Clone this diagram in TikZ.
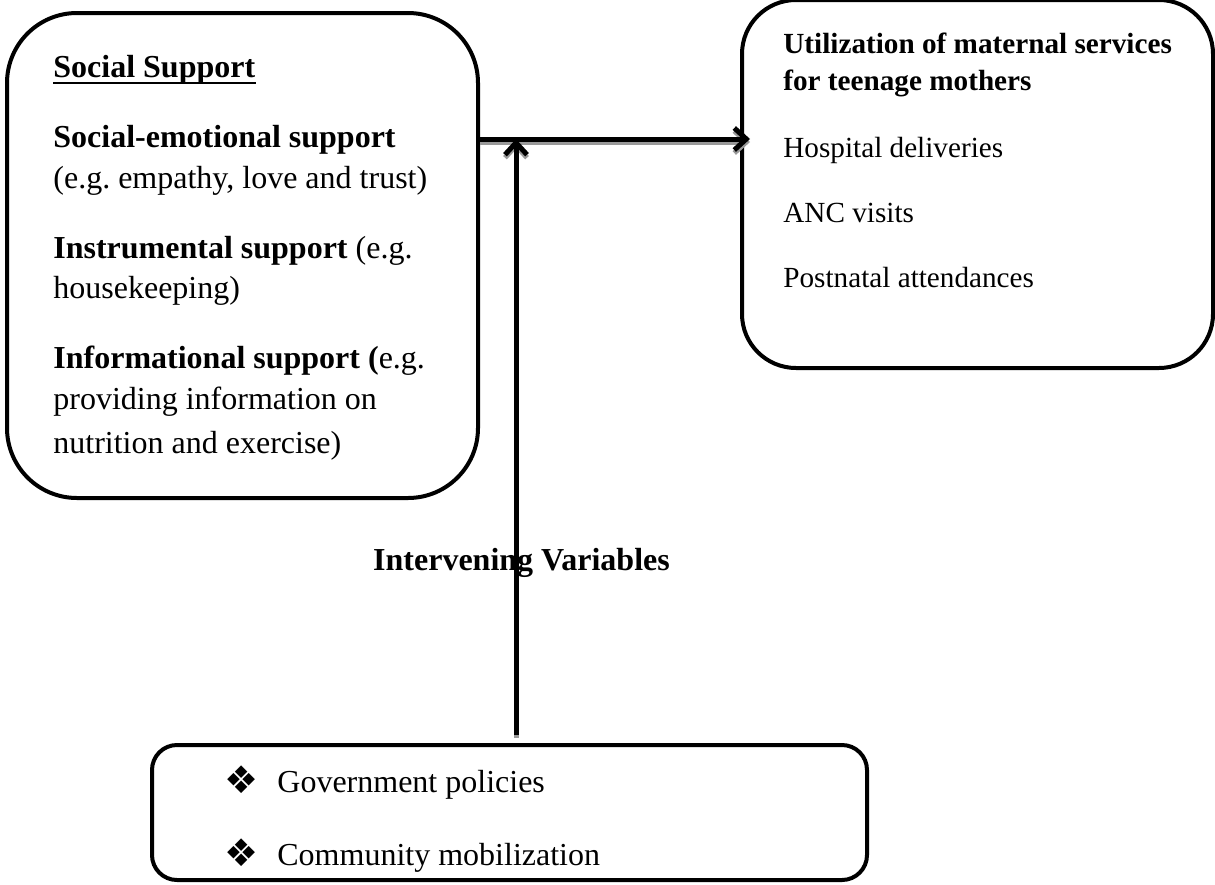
\documentclass[tikz,border=0pt]{standalone}
\usepackage{fontspec}
\setmainfont{Liberation Serif}
\newfontfamily\symfont{DejaVu Sans}
\usetikzlibrary{arrows.meta,positioning}
\frenchspacing
\tikzstyle{arrow} = [line width=2.5pt,->,>={Straight Barb[length=6pt,width=11pt]}]
\tikzstyle{shadowarrow} = [arrow,draw=black!40,transform canvas={yshift=-1.5pt}]
\tikzstyle{box} = [draw,line width=2pt,rounded corners=35pt,inner sep=0pt]
\tikzstyle{txt} = [inner sep=0pt,anchor=base west,font=\fontsize{16}{19}\selectfont]
\tikzstyle{rtxt} = [txt,font=\fontsize{14.6}{17}\selectfont]
\tikzstyle{bullet} = [txt,anchor=base,font=\symfont\fontsize{19}{19}\selectfont]

\begin{document}
\begin{tikzpicture}[x=0.5pt,y=-0.5pt]
  \useasboundingbox (0,0) rectangle (1215,884);
  % boxes
  \node[box,minimum width=235.5pt,minimum height=242.5pt] (ss) at (242.5,255.5) {};
  \node[box,rounded corners=27pt,minimum width=235.5pt,minimum height=184pt] (ms) at (977.5,184) {};
  \node[box,rounded corners=12.5pt,minimum width=357.5pt,minimum height=67.5pt] (iv) at (509.5,812.5) {};
  \coordinate (jn) at (516,139);
  % social support
  \node[txt] (ss0) at (53,77) {\textbf{Social Support}};
  \draw[line width=1pt] ([yshift=-3pt]ss0.base west) -- ([yshift=-3pt]ss0.base east);
  \node[txt] (ss1) at (53,147) {\textbf{Social-emotional support}};
  \node[txt] (ss2) at (53,188) {(e.g. empathy, love and trust)};
  \node[txt] (ss3) at (53,258) {\textbf{Instrumental support} (e.g.};
  \node[txt] (ss4) at (53,298) {housekeeping)};
  \node[txt] (ss5) at (53,368) {\textbf{Informational support (}e.g.};
  \node[txt] (ss6) at (53,409) {providing information on};
  \node[txt] (ss7) at (53,453) {nutrition and exercise)};
  % maternal services
  \node[rtxt] (ms0) at (783,53) {\textbf{Utilization of maternal services}};
  \node[rtxt] (ms1) at (783,90) {\textbf{for teenage mothers}};
  \node[rtxt] (ms2) at (783,157) {Hospital deliveries};
  \node[rtxt] (ms3) at (783,222) {ANC visits};
  \node[rtxt] (ms4) at (783,287) {Postnatal attendances};
  % intervening variables
  \node[txt,anchor=base] (ivhead) at (521.5,570) {\textbf{Intervening Variables}};
  \node[bullet] (b1) at (242,793) {❖};
  \node[txt] (iv1) at (277,792) {Government policies};
  \node[bullet] (b2) at (242,866) {❖};
  \node[txt] (iv2) at (277,865) {Community mobilization};
  % arrows
  \draw[shadowarrow] (ss.east |- jn) -- ([xshift=5pt]ms.west |- jn);
  \draw[shadowarrow] ([yshift=4pt]iv.north -| jn) -- (jn);
  \draw[arrow] (ss.east |- jn) -- ([xshift=5pt]ms.west |- jn);
  \draw[arrow] ([yshift=4pt]iv.north -| jn) -- (jn);
\end{tikzpicture}
\end{document}
